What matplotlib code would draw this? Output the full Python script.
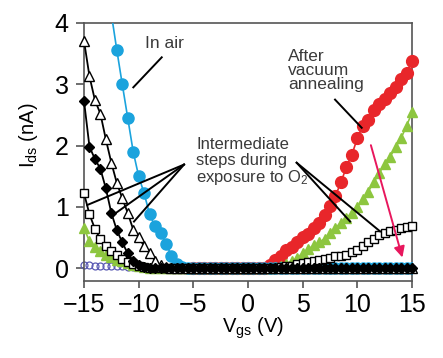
"""Ids-Vgs transfer curves: in air, during O2 exposure, after vacuum annealing."""
import matplotlib
matplotlib.use("Agg")
import matplotlib.pyplot as plt
import numpy as np

plt.rcParams.update({
    "font.family": ["Liberation Sans", "DejaVu Sans"],
    "mathtext.fontset": "custom",
    "mathtext.rm": "Liberation Sans",
    "mathtext.it": "Liberation Sans:italic",
})

nan = np.nan
# gate sweep, -15 V .. 15 V in 0.5 V steps
vgs = np.linspace(-15, 15, 61)

# ── currents (nA), one row = 10 points ──
in_air = [nan, nan, nan, nan, nan, 4.15, 3.56, 3.00, 2.45, 1.90,
          1.50, 1.22, 0.88, 0.68, 0.57, 0.40, 0.20, 0.06, 0.02, 0.01,
          0.01, 0, 0, 0, 0, 0, 0, 0, 0, 0,
          0, 0, 0, 0, 0, 0, 0, 0, 0, 0,
          0, 0, 0, 0, 0, 0, 0, 0, 0, 0,
          0, 0, 0, 0, 0, 0, 0, 0, 0, 0,
          0]
step_tri = [3.71, 3.13, 2.74, 2.52, 2.10, 1.72, 1.39, 1.14, 0.90, 0.63,
            0.50, 0.36, 0.24, 0.12, 0.05, 0.02, 0.01, 0, 0, 0,
            0, 0, 0, 0, 0, 0, 0, 0, 0, 0,
            0, 0, 0, 0, 0, 0, 0, 0, 0, 0,
            0, 0, 0, 0, 0, 0, 0, 0, 0, 0,
            0, 0, 0, 0, 0, 0, 0, 0, 0, 0,
            0]
step_dia = [2.73, 1.98, 1.78, 1.62, 1.30, 0.90, 0.62, 0.42, 0.24, 0.12,
            0.05, 0.02, 0.01, 0, 0, 0, 0, 0, 0, 0,
            0, 0, 0, 0, 0, 0, 0, 0, 0, 0,
            0, 0, 0, 0, 0, 0, 0, 0, 0, 0,
            0, 0, 0, 0, 0, 0, 0, 0, 0, 0,
            0, 0, 0, 0, 0, 0, 0, 0, 0, 0,
            0]
step_sq = [1.22, 0.88, 0.64, 0.47, 0.36, 0.28, 0.22, 0.15, 0.10, 0.06,
           0.03, 0.02, 0.01, 0.01, 0, 0, 0, 0, 0, 0,
           0, 0, 0, 0, 0, 0, 0, 0, 0, 0,
           0, 0, 0, 0, 0.01, 0.01, 0.02, 0.03, 0.04, 0.06,
           0.08, 0.10, 0.12, 0.13, 0.15, 0.17, 0.19, 0.20, 0.22, 0.26,
           0.30, 0.36, 0.42, 0.48, 0.54, 0.58, 0.61, 0.63, 0.65, 0.67,
           0.68]
step_green = [0.65, 0.44, 0.35, 0.28, 0.22, 0.18, 0.14, 0.11, 0.08, 0.05,
              0.03, 0.02, 0.01, 0.01, 0, 0, 0, 0, 0, 0,
              0, 0, 0, 0, 0, 0, 0, 0, 0, 0,
              0, 0, 0, 0, 0.01, 0.02, 0.04, 0.07, 0.11, 0.17,
              0.24, 0.31, 0.37, 0.42, 0.48, 0.57, 0.66, 0.74, 0.82, 0.90,
              1.00, 1.12, 1.25, 1.40, 1.55, 1.70, 1.82, 1.97, 2.12, 2.32,
              2.54]
suppressed = [0.05, 0.05, 0.04, 0.04, 0.04, 0.03, 0.03, 0.03, 0.02, 0.02,
              0.02, 0.02, 0.01, 0.01, 0.01, 0.01, 0.01, 0.01, 0.01, 0.01,
              0.01, 0.01, 0.01, 0.01, 0.01, 0.01, 0.01, 0.01, 0.01, 0.01,
              0.01, 0.01, 0.01, 0.01, 0.01, 0.01, 0.01, 0.01, 0.01, 0.01,
              0.01, 0.01, 0.01, 0.01, 0.01, 0.01, 0.01, 0.01, 0.01, 0.01,
              0.01, 0.01, 0.01, 0.01, 0.01, 0.01, 0.01, 0.01, 0.01, 0.01,
              0.01]
annealed = [nan, nan, nan, nan, nan, nan, nan, nan, nan, nan,
            nan, nan, nan, nan, nan, nan, nan, nan, nan, nan,
            0, 0, 0, 0, 0, 0, 0, 0, 0, 0,
            0, 0, 0, 0, 0.05, 0.13, 0.20, 0.29, 0.35, 0.42,
            0.50, 0.56, 0.65, 0.74, 0.86, 1.02, 1.18, 1.40, 1.65, 1.85,
            2.12, 2.32, 2.42, 2.58, 2.68, 2.76, 2.85, 2.95, 3.08, 3.18,
            3.38]

CYAN, RED, GREEN, PINK = "#1ba3dd", "#e8262a", "#8dc63f", "#e8175d"
TXT = "#3a3a3a"

fig = plt.figure(figsize=(4.43, 3.58), dpi=100)
ax = fig.add_axes([84 / 443, 1 - 281 / 358, 328 / 443, 258 / 358])

ax.plot(vgs, suppressed, "o", ms=5, mfc="none", mec="#5a5ab4", mew=0.9,
        zorder=2, clip_on=False)
ax.plot(vgs, annealed, "-o", color=RED, lw=1.2, ms=8.5, mec=RED, zorder=3, clip_on=False)
ax.plot(vgs, step_green, "-^", color=GREEN, lw=1.2, ms=7, mec=GREEN, zorder=3, clip_on=False)
ax.plot(vgs, in_air, "-o", color=CYAN, lw=1.2, ms=8, mec=CYAN, zorder=3)
ax.plot(vgs, step_sq, "-s", color="black", lw=1.3, ms=6, mfc="white", mec="black",
        mew=1.0, zorder=4, clip_on=False)
ax.plot(vgs, step_tri, "-^", color="black", lw=1.3, ms=7, mfc="white", mec="black",
        mew=1.0, zorder=5, clip_on=False)
ax.plot(vgs, step_dia, "-D", color="black", lw=1.3, ms=5, zorder=6, clip_on=False)

ax.set_xlim(-15, 15)
ax.set_ylim(-0.21, 4.0)
ax.set_xticks([-15, -10, -5, 0, 5, 10, 15])
ax.set_yticks([0, 1, 2, 3, 4])
ax.tick_params(axis="both", direction="out", labelsize=18, colors="#555555",
               labelcolor="black", width=1.2)
ax.tick_params(axis="x", length=5, pad=3.5)
ax.tick_params(axis="y", length=6, pad=5)
for sp in ax.spines.values():
    sp.set_color("#555555")
    sp.set_linewidth(1.2)

# annotations
kw = dict(color="black", lw=1.4, zorder=7)
ax.plot([-7.89, -10.49], [3.44, 2.95], **kw)
for xe, ye in [(-14.7, 1.03), (-12.56, 0.84), (-10.43, 0.76)]:
    ax.plot([-5.85, xe], [1.69, ye], **kw)
for xe, ye in [(9.34, 0.76), (12.08, 0.60)]:
    ax.plot([4.45, xe], [1.72, ye], **kw)
ax.plot([7.96, 10.4], [2.75, 2.29], **kw)
ax.annotate("", xy=(14.19, 0.13), xytext=(11.17, 2.05), zorder=8,
            arrowprops=dict(arrowstyle="-|>", color=PINK, lw=1.4, mutation_scale=16))

ax.text(-9.42, 3.66, "In air", fontsize=12.5, color=TXT, ha="left", va="center")
ax.text(3.66, 3.57, "After\nvacuum\nannealing", fontsize=12.5, color=TXT,
        ha="left", va="top", linespacing=0.92)
ax.text(-4.75, 2.14, "Intermediate\nsteps during\nexposure to O$_2$", fontsize=12,
        color=TXT, ha="left", va="top", linespacing=1.05)

fig.text(28 / 443, 1 - 135 / 358, r"I$_{\mathregular{ds}}$ (nA)", fontsize=14.5,
         rotation=90, ha="center", va="center")
fig.text(253 / 443, 1 - 333 / 358, r"V$_{\mathregular{gs}}$ (V)", fontsize=14.5,
         ha="center", va="baseline")

fig.savefig("out.png", dpi=100, facecolor="white")
